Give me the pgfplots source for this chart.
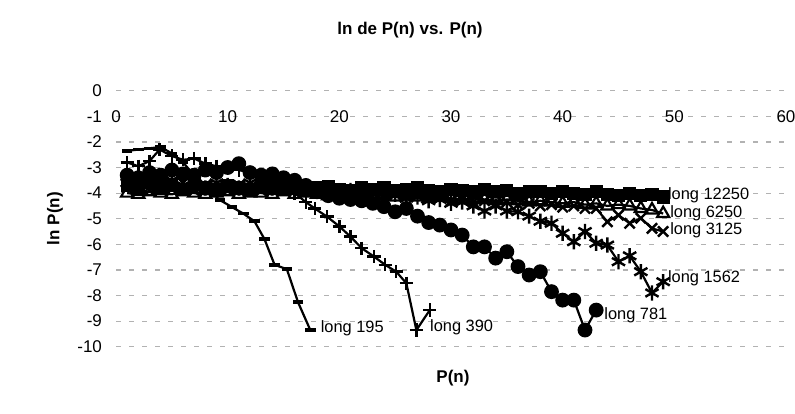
\documentclass[border=0pt]{standalone}
\usepackage{fontspec}
\setmainfont{Liberation Sans}
\usepackage{pgfplots}
\pgfplotsset{compat=1.18}
\begin{document}
\begin{tikzpicture}[x=1pt,y=1pt]
\useasboundingbox (0,0) rectangle (397.5,206.5);
\begin{axis}[
  at={(58pt,33.15pt)}, anchor=south west,
  scale only axis, width=335pt, height=128pt,
  xmin=0, xmax=60, ymin=-10, ymax=0,
  xtick={0,10,...,60}, ytick={-10,-9,...,0},
  axis line style={draw=none},
  major tick length=0pt,
  xticklabel pos=upper,
  xticklabel style={anchor=center, yshift=-12.8pt},
  yticklabel style={anchor=east, xshift=-3.5pt},
  ticklabel style={font=\fontsize{8.5}{10}\selectfont},
  /pgf/number format/assume math mode=true,
  ymajorgrids,
  grid style={gray!60, line width=0.6pt, dash pattern=on 2.5pt off 4pt},
  clip=false,
  every axis plot/.append style={black, line width=1.1pt, mark options={solid, line width=1.2pt}},
]
% long 12250
\addplot[mark=square*, mark size=2.7pt] coordinates {(1,-3.7)(2,-3.85)(3,-3.6)(4,-3.8)(5,-3.7)(6,-3.85)(7,-3.65)(8,-3.8)(9,-3.85)(10,-3.7)(11,-3.8)(12,-3.85)(13,-3.7)(14,-3.8)(15,-3.85)(16,-3.75)(17,-3.85)(18,-3.8)(19,-3.75)(20,-3.85)(21,-3.9)(22,-3.8)(23,-3.85)(24,-3.8)(25,-3.9)(26,-3.85)(27,-3.8)(28,-3.9)(29,-3.95)(30,-3.85)(31,-3.9)(32,-3.95)(33,-3.85)(34,-3.95)(35,-3.9)(36,-4.0)(37,-3.95)(38,-3.95)(39,-4.0)(40,-3.95)(41,-4.0)(42,-4.05)(43,-3.95)(44,-4.05)(45,-4.1)(46,-4.0)(47,-4.1)(48,-4.05)(49,-4.15)};
% long 6250
\addplot[mark=triangle, mark size=3.5pt, mark options={fill=white}] coordinates {(1,-4.0)(2,-4.05)(3,-3.95)(4,-4.0)(5,-4.05)(6,-3.95)(7,-4.0)(8,-4.05)(9,-4.0)(10,-3.95)(11,-4.05)(12,-4.0)(13,-4.0)(14,-4.05)(15,-3.95)(16,-4.05)(17,-4.0)(18,-4.05)(19,-4.1)(20,-4.0)(21,-4.05)(22,-4.1)(23,-4.05)(24,-4.1)(25,-4.15)(26,-4.1)(27,-4.15)(28,-4.2)(29,-4.15)(30,-4.2)(31,-4.25)(32,-4.2)(33,-4.25)(34,-4.3)(35,-4.25)(36,-4.3)(37,-4.35)(38,-4.3)(39,-4.35)(40,-4.4)(41,-4.35)(42,-4.45)(43,-4.4)(44,-4.5)(45,-4.45)(46,-4.5)(47,-4.6)(48,-4.66)(49,-4.8)};
% long 3125
\addplot[mark=x, mark size=3.6pt] coordinates {(1,-3.8)(2,-3.6)(3,-3.9)(4,-3.7)(5,-3.8)(6,-3.6)(7,-3.9)(8,-3.7)(9,-3.8)(10,-3.9)(11,-3.7)(12,-3.8)(13,-3.9)(14,-3.75)(15,-3.85)(16,-3.9)(17,-3.8)(18,-3.95)(19,-3.9)(20,-4.0)(21,-3.95)(22,-4.05)(23,-4.0)(24,-4.1)(25,-4.05)(26,-4.15)(27,-4.1)(28,-4.2)(29,-4.15)(30,-4.3)(31,-4.25)(32,-4.35)(33,-4.3)(34,-4.4)(35,-4.35)(36,-4.45)(37,-4.4)(38,-4.5)(39,-4.45)(40,-4.55)(41,-4.5)(42,-4.6)(43,-4.6)(44,-5.12)(45,-4.86)(46,-5.18)(47,-4.98)(48,-5.38)(49,-5.5)};
% long 1562
\addplot[mark=asterisk, mark size=3.8pt] coordinates {(1,-3.6)(2,-3.5)(3,-3.7)(4,-3.6)(5,-3.5)(6,-3.7)(7,-3.6)(8,-3.8)(9,-3.6)(10,-3.7)(11,-3.8)(12,-3.6)(13,-3.7)(14,-3.8)(15,-3.7)(16,-3.9)(17,-3.8)(18,-3.9)(19,-3.85)(20,-4.0)(21,-3.9)(22,-4.05)(23,-4.0)(24,-4.1)(25,-4.05)(26,-4.2)(27,-4.15)(28,-4.3)(29,-4.25)(30,-4.4)(31,-4.35)(32,-4.5)(33,-4.7)(34,-4.5)(35,-4.7)(36,-4.73)(37,-4.9)(38,-5.1)(39,-5.18)(40,-5.57)(41,-5.9)(42,-5.5)(43,-5.96)(44,-6.03)(45,-6.68)(46,-6.45)(47,-7.07)(48,-7.9)(49,-7.46)};
% long 781
\addplot[mark=*, mark size=3.1pt] coordinates {(1,-3.3)(2,-3.4)(3,-3.2)(4,-3.3)(5,-3.1)(6,-3.25)(7,-3.3)(8,-3.1)(9,-3.2)(10,-3.0)(11,-2.85)(12,-3.2)(13,-3.3)(14,-3.25)(15,-3.4)(16,-3.5)(17,-3.7)(18,-3.95)(19,-4.1)(20,-4.2)(21,-4.25)(22,-4.3)(23,-4.4)(24,-4.53)(25,-4.73)(26,-4.6)(27,-4.9)(28,-5.15)(29,-5.25)(30,-5.44)(31,-5.64)(32,-6.1)(33,-6.1)(34,-6.54)(35,-6.29)(36,-6.87)(37,-7.2)(38,-7.07)(39,-7.85)(40,-8.18)(41,-8.18)(42,-9.35)(43,-8.57)};
% long 390
\addplot[mark=+, mark size=3.3pt] coordinates {(1,-2.8)(2,-2.95)(3,-2.75)(3.9,-2.3)(5,-2.55)(6,-2.7)(7,-2.65)(8,-2.85)(9,-2.95)(10,-3.0)(11,-3.1)(12,-3.2)(13,-3.35)(14,-3.5)(15,-3.7)(16,-4.0)(17,-4.35)(17.8,-4.6)(18.9,-4.92)(20,-5.3)(21,-5.7)(22,-6.15)(23.1,-6.48)(24.1,-6.8)(25.1,-7.07)(26,-7.52)(26.9,-9.35)(28.1,-8.57)};
% long 195
\addplot[mark=-, mark size=2.6pt, mark options={line width=1.8pt}] coordinates {(1,-2.35)(2,-2.3)(3,-2.25)(4,-2.2)(5,-2.45)(6,-2.8)(7,-3.3)(8,-3.75)(9.3,-4.27)(10.4,-4.55)(11.4,-4.8)(12.4,-5.1)(13.3,-5.8)(14.2,-6.8)(15.3,-6.97)(16.3,-8.26)(17.4,-9.35)};
\begin{scope}[every node/.style={anchor=west, inner sep=0pt, font=\fontsize{8.2}{10}\selectfont}]
\node at (axis cs:49.4,-4.08) {long 12250};
\node at (axis cs:49.6,-4.78) {long 6250};
\node at (axis cs:49.6,-5.44) {long 3125};
\node at (axis cs:49.4,-7.32) {long 1562};
\node at (axis cs:43.7,-8.76) {long 781};
\node at (axis cs:28.1,-9.23) {long 390};
\node at (axis cs:18.3,-9.27) {long 195};
\end{scope}
\end{axis}
\node[font=\bfseries\fontsize{8.5}{10}\selectfont] at (205,191.5) {ln de P(n) vs. P(n)};
\node[font=\bfseries\fontsize{8.5}{10}\selectfont] at (226.5,17.5) {P(n)};
\node[font=\bfseries\fontsize{8.5}{10}\selectfont, rotate=90] at (27.5,97.2) {ln P(n)};
\end{tikzpicture}
\end{document}
